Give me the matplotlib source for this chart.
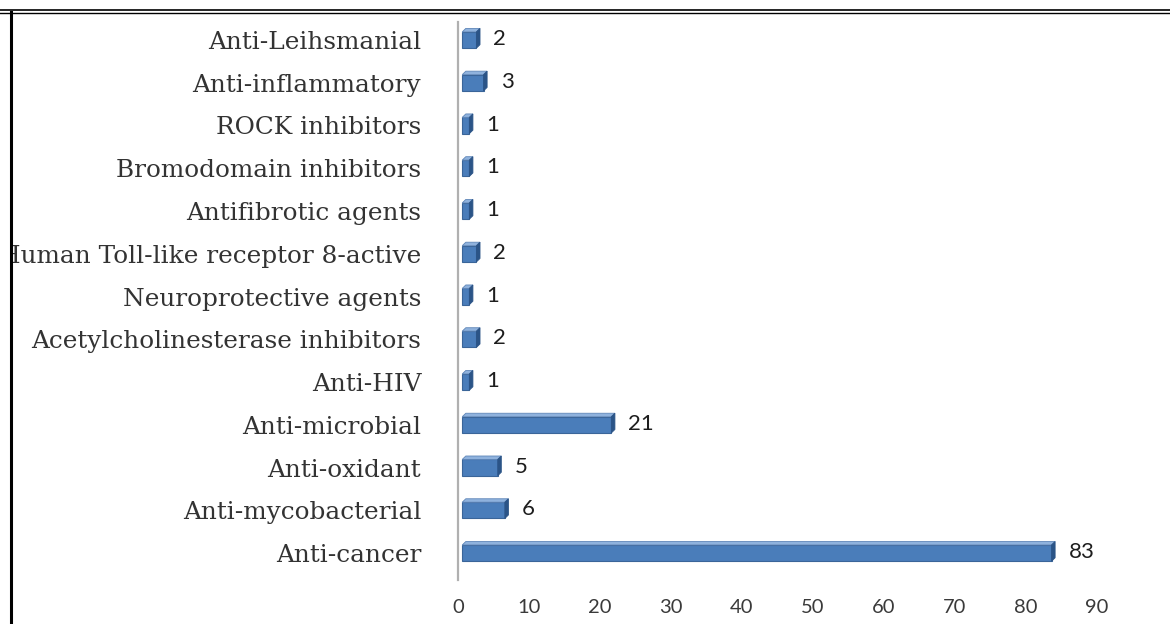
import matplotlib
matplotlib.use("Agg")
import matplotlib.pyplot as plt
from matplotlib.transforms import Bbox
from matplotlib.lines import Line2D

categories = ["Anti-cancer", "Anti-mycobacterial", "Anti-oxidant", "Anti-microbial",
              "Anti-HIV", "Acetylcholinesterase inhibitors", "Neuroprotective agents",
              "Human Toll-like receptor 8-active", "Antifibrotic agents",
              "Bromodomain inhibitors", "ROCK inhibitors", "Anti-inflammatory",
              "Anti-Leihsmanial"]
values = [83, 6, 5, 21, 1, 2, 1, 2, 1, 1, 1, 3, 2]
xticks = [0, 10, 20, 30, 40, 50, 60, 70, 80, 90]

W, H = 1170, 624
fig = plt.figure(figsize=(W / 100, H / 100), dpi=100)
ax = fig.add_axes([458 / W, (H - 580) / H, (1097 - 458) / W, (580 - 22) / H])

pos = list(range(len(categories)))
h = 0.38      # front face height
dy = 0.08     # depth in y (data units)
dx = 0.5      # depth in x (data units)
x0 = 0.6      # gap between back wall and bar front face

front = "#4a7dba"
top_c = "#8fb2dd"
side_c = "#2b5487"

ax.barh(pos, values, height=h, left=x0, color=front, edgecolor="#3a6599",
        linewidth=0.8, zorder=3)
for y, v in zip(pos, values):
    yt = y + h / 2
    e = x0 + v
    ax.fill([x0, e, e + dx, x0 + dx], [yt, yt, yt + dy, yt + dy],
            color=top_c, ec="#5f86b8", lw=0.6, zorder=4)
    ax.fill([e, e + dx, e + dx, e], [y - h / 2, y - h / 2 + dy, yt + dy, yt],
            color=side_c, ec=side_c, lw=0.6, zorder=4)
    ax.text(e + dx + 1.9, y + 0.02, str(v), ha="left", va="center",
            fontsize=16, family=["Lato", "DejaVu Sans"], color="#1e1e1e")

ax.set_xlim(0, 90)
ax.set_ylim(-0.63, 12.42)
ax.set_xticks(xticks)
ax.set_xticklabels([str(t) for t in xticks], fontsize=14.5,
                   family=["Lato", "DejaVu Sans"], color="#3a3a3a")
ax.set_yticks(pos)
ax.set_yticklabels(categories, fontsize=17.8, family=["DejaVu Serif"], color="#333333")
ax.tick_params(axis="x", length=0, pad=14)
ax.tick_params(axis="y", length=0, pad=26.5)
for s in ["top", "right", "bottom"]:
    ax.spines[s].set_visible(False)
ax.spines["left"].set_color("#b0b0b0")
ax.spines["left"].set_linewidth(1.6)

# clip labels at the left frame line
fig.canvas.draw()
clip = Bbox.from_extents(13, 0, W, H)
for lab in ax.get_yticklabels():
    lab.set_clip_on(True)
    lab.set_clip_box(clip)

# frame lines (top double line, left line)
fig.add_artist(Line2D([0, 1], [1 - 10.3 / H, 1 - 10.3 / H], color="black", lw=1.2,
                      transform=fig.transFigure))
fig.add_artist(Line2D([0, 1], [1 - 12.6 / H, 1 - 12.6 / H], color="black", lw=1.0,
                      transform=fig.transFigure))
fig.add_artist(Line2D([11 / W, 11 / W], [0, 1 - 12 / H], color="black", lw=2.2,
                      transform=fig.transFigure))

fig.savefig("out.png", dpi=100)
